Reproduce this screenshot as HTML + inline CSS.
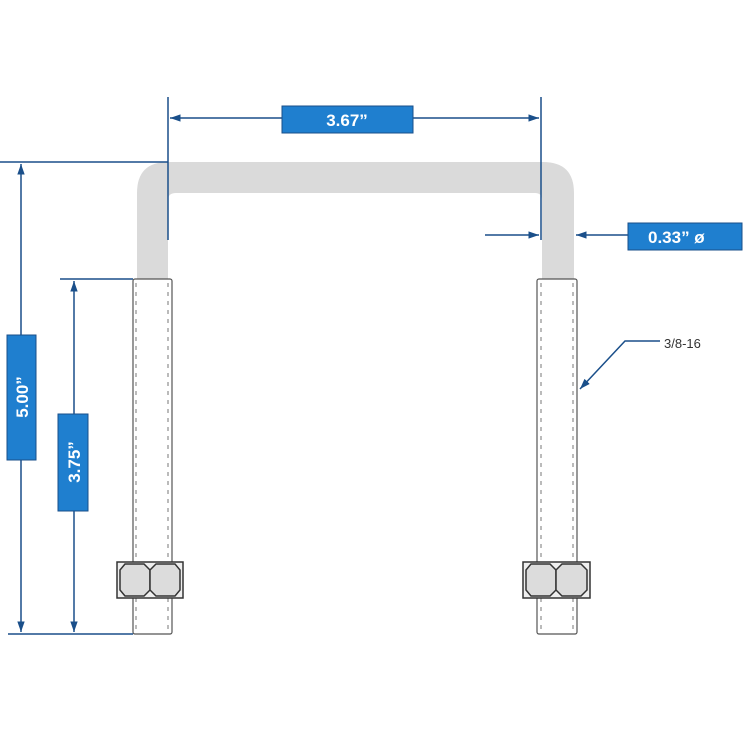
<!DOCTYPE html>
<html><head><style>body{margin:0;background:#fff}svg{display:block}</style></head><body>
<svg width="750" height="750" viewBox="0 0 750 750" xmlns="http://www.w3.org/2000/svg" font-family="Liberation Sans, sans-serif">
<defs>
<marker id="a" viewBox="0 0 10 10" refX="10" refY="5" markerWidth="7" markerHeight="7" orient="auto-start-reverse"><path d="M0,1.5L10,5L0,8.5z" fill="#1a4f8a"/></marker>
</defs>
<!-- U bend -->
<path d="M137,279 L137,193 Q137,162 168,162 L543,162 Q574,162 574,193 L574,279 L542,279 L542,200 Q542,193 535,193 L176,193 Q168,193 168,200 L168,279 Z" fill="#dadada"/>
<!-- threads -->
<g fill="#fff" stroke="#555" stroke-width="1.2">
<rect x="133" y="279" width="39" height="355" rx="2"/>
<rect x="537" y="279" width="40" height="355" rx="2"/>
</g>
<g stroke="#777" stroke-width="1" stroke-dasharray="4,5">
<line x1="136" y1="283" x2="136" y2="630"/><line x1="168" y1="283" x2="168" y2="630"/>
<line x1="541" y1="283" x2="541" y2="630"/><line x1="573" y1="283" x2="573" y2="630"/>
</g>
<!-- nuts -->
<g stroke="#333" stroke-width="1.5" fill="#dcdcdc">
<rect x="117" y="562" width="66" height="36" fill="#eee"/>
<path d="M120,570 L125,564 L144,564 L150,570 L150,590 L144,596 L125,596 L120,590Z"/>
<path d="M150,570 L156,564 L175,564 L180,570 L180,590 L175,596 L156,596 L150,590Z"/>
<rect x="523" y="562" width="67" height="36" fill="#eee"/>
<path d="M526,570 L531,564 L550,564 L556,570 L556,590 L550,596 L531,596 L526,590Z"/>
<path d="M556,570 L562,564 L581,564 L587,570 L587,590 L581,596 L562,596 L556,590Z"/>
</g>
<!-- dimension lines -->
<g stroke="#1a4f8a" stroke-width="1.5" fill="none">
<line x1="168" y1="97" x2="168" y2="240"/><line x1="541" y1="97" x2="541" y2="240"/>
<line x1="282" y1="118" x2="170" y2="118" marker-end="url(#a)"/>
<line x1="413" y1="118" x2="539" y2="118" marker-end="url(#a)"/>
<line x1="0" y1="162" x2="168" y2="162"/>
<line x1="8" y1="634" x2="133" y2="634"/>
<line x1="60" y1="279" x2="133" y2="279"/>
<line x1="21" y1="335" x2="21" y2="164" marker-end="url(#a)"/>
<line x1="21" y1="460" x2="21" y2="632" marker-end="url(#a)"/>
<line x1="74" y1="414" x2="74" y2="281" marker-end="url(#a)"/>
<line x1="74" y1="511" x2="74" y2="632" marker-end="url(#a)"/>
<line x1="485" y1="235" x2="539" y2="235" marker-end="url(#a)"/>
<line x1="628" y1="235" x2="576" y2="235" marker-end="url(#a)"/>
<polyline points="660,341 625,341 580,389" marker-end="url(#a)"/>
</g>
<!-- label boxes -->
<g fill="#1f7fcf" stroke="#1a4f8a" stroke-width="1">
<rect x="282" y="106" width="131" height="27"/>
<rect x="628" y="223" width="114" height="27"/>
<rect x="7" y="335" width="29" height="125"/>
<rect x="58" y="414" width="30" height="97"/>
</g>
<g fill="#fff" font-weight="bold" font-size="17">
<text x="347" y="126" text-anchor="middle">3.67”</text>
<text x="648" y="243">0.33”  ø</text>
<text transform="translate(28,397) rotate(-90)" text-anchor="middle">5.00”</text>
<text transform="translate(80,462) rotate(-90)" text-anchor="middle">3.75”</text>
</g>
<text x="664" y="348" font-size="13" fill="#333">3/8-16</text>
</svg>
</body></html>
